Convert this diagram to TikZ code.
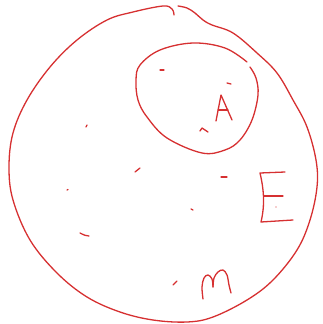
\documentclass[tikz,border=0pt]{standalone}
\begin{document}
\begin{tikzpicture}[x=1pt,y=-1pt,
  ink/.style={draw=penred,line width=1.3pt,line cap=round,line join=round}]
\definecolor{penred}{RGB}{214,48,49}
\useasboundingbox (0,0) rectangle (322,324);
% big circle (two strokes with hook at top)
\draw[ink] plot[smooth,tension=0.6] coordinates {
 (174,15) (172,9) (163,6) (133,12) (107,20) (77,40) (50,67) (27,100) (13,133) (9,167)
 (13,200) (30,240) (57,273) (87,297) (120,312) (153,320) (187,322) (213,317) (247,300)
 (273,280) (297,250) (310,220) (317,187) (316,160) (307,127) (293,100) (277,73) (257,53)
 (233,33) (212,25) (203,20) (195,13) (187,8) (178,6)};
% inner ellipse
\draw[ink] plot[smooth,tension=0.6] coordinates {
 (247,62) (225,48) (193,43) (160,50) (140,65) (136,80) (138,100) (147,117) (167,138)
 (202,153) (225,150) (240,140) (252,120) (258,95) (256,78) (250,67)};
% A
\draw[ink] (216,121) -- (221,95) -- (232,120);
\draw[ink] (218,110) -- (228,110);
% E
\draw[ink] (285,172) -- (260,173) .. controls (264,190) and (265,205) .. (261,222) -- (293,220);
\draw[ink] (264,196) -- (283,196);
\fill[penred] (276,207) circle (0.6);
% m
\draw[ink] plot[smooth,tension=0.6] coordinates {
 (203,299) (202,287) (204,278) (208,275) (212,279) (213,287)};
\draw[ink] plot[smooth,tension=0.6] coordinates {
 (213,287) (214,278) (218,272) (223,270) (227,275) (229,285) (231,293)};
% small ticks
\draw[ink] (160,70) -- (164,70);
\draw[ink] (227,83) -- (231,84);
\draw[ink] (200,131) -- (202,128) -- (208,132);
\draw[ink] (86,127) -- (87,125);
\draw[ink] (135,172) -- (140,168);
\draw[ink] (67,190) -- (68,189.5);
\draw[ink] (80,233) .. controls (84,235) and (86,236) .. (89,236);
\draw[ink] (221,177) -- (227,177);
\draw[ink] (191,209) -- (193,210);
\draw[ink] (173,285) -- (177,281);
\end{tikzpicture}
\end{document}
